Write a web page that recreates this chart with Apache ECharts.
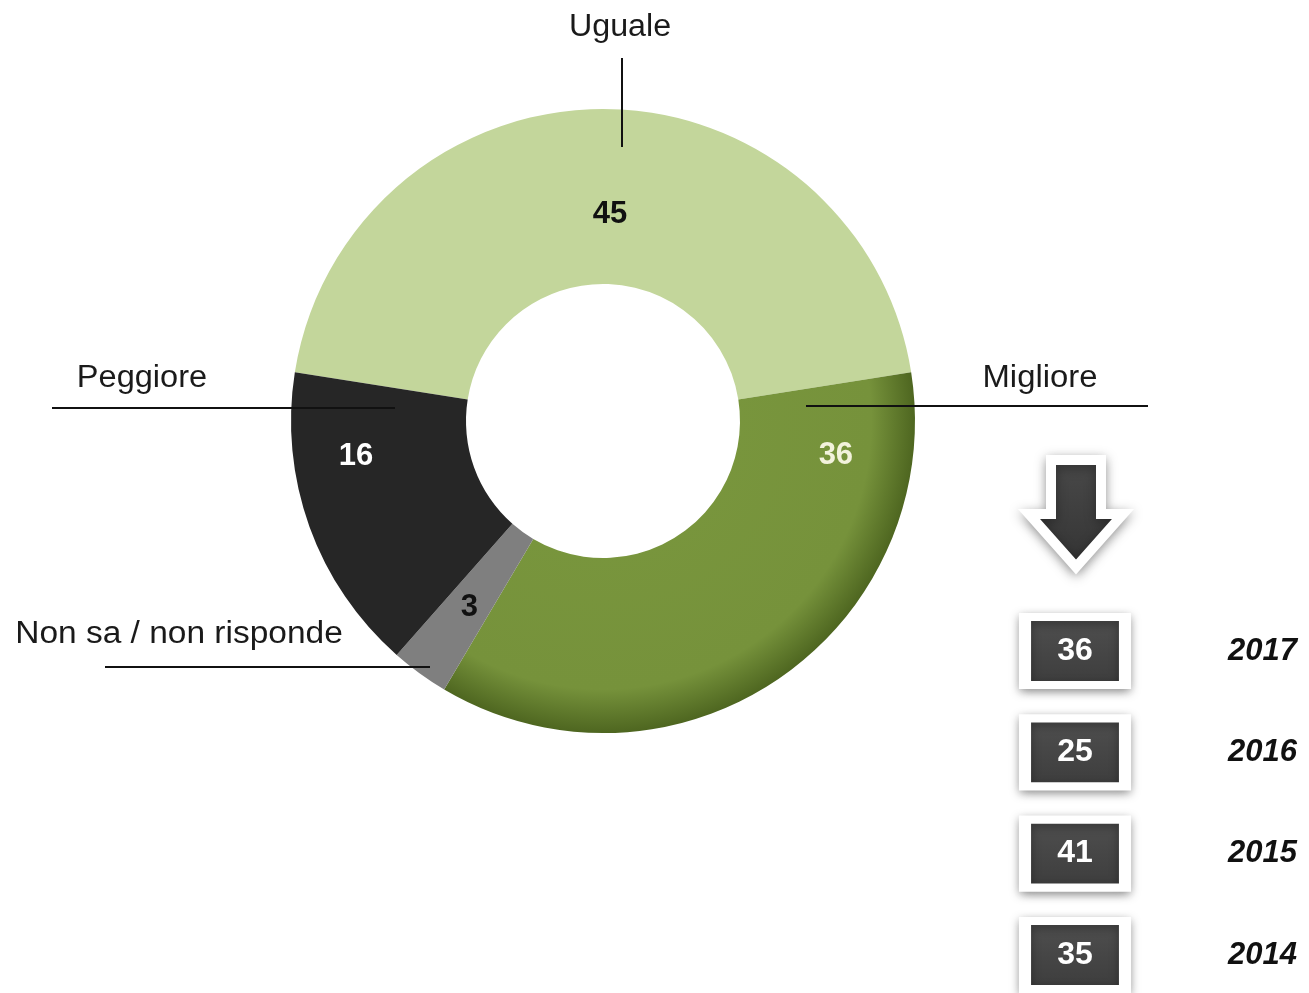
<!DOCTYPE html>
<html>
<head>
<meta charset="utf-8">
<script src="https://cdn.jsdelivr.net/npm/echarts@6/dist/echarts.min.js"></script>
<style>
  html, body { margin: 0; padding: 0; background: #fff; }
  #chart { width: 1309px; height: 993px; }
</style>
</head>
<body>
<div id="chart"></div>
<script>
// dati della ciambella (ordine orario a partire da sinistra)
const categories = ['Uguale', 'Migliore', 'Non sa / non risponde', 'Peggiore']
const values = [45, 36, 3, 16]

// serie storica "Migliore"
const years = ['2017', '2016', '2015', '2014']
const yearValues = [36, 25, 41, 35]

// stile delle fette
const sliceColors = ['#c3d69b', '#77933c', '#7f7f7f', '#262626']
const valueColors = ['#111', '#f2f2dc', '#111', '#fff']
const valueOffsets = [[7, 21], [105, -154], [0, 2], [-33, -42]]

// posizioni delle etichette esterne (testo + linea)
const nameLayout = [
  { tx: 620, ty: 27, sx: 1.04, line: [622, 58, 622, 147] },
  { tx: 1040, ty: 378, sx: 1.06, line: [806, 406, 1148, 406] },
  { tx: 179, ty: 634, sx: 1.08, line: [105, 667, 430, 667] },
  { tx: 142, ty: 378, sx: 1.05, line: [52, 408, 395, 408] }
]

const FONT = '"Liberation Sans", Arial, sans-serif'
const cx = 603, cy = 421, r0 = 137, r1 = 312

const chart = echarts.init(document.getElementById('chart'))

const pieData = values.map((v, i) => ({
  name: categories[i],
  value: v,
  itemStyle: {
    color: i === 1
      ? new echarts.graphic.RadialGradient(cx, cy, r1, [
          { offset: 0, color: '#7a983e' },
          { offset: 0.86, color: '#76923b' },
          { offset: 1, color: '#4e6620' }
        ], true)
      : sliceColors[i]
  },
  label: { color: valueColors[i], offset: valueOffsets[i] }
}))

const graphics = []
nameLayout.forEach((l, i) => {
  graphics.push({
    type: 'line',
    shape: { x1: l.line[0], y1: l.line[1], x2: l.line[2], y2: l.line[3] },
    style: { stroke: '#111', lineWidth: 2 },
    z: 10
  })
  graphics.push({
    type: 'text',
    x: l.tx, y: l.ty,
    scaleX: l.sx,
    style: {
      text: categories[i], fill: '#1a1a1a', font: '31px ' + FONT,
      align: 'center', verticalAlign: 'middle'
    },
    z: 10
  })
})

// freccia verso il basso
graphics.push({
  type: 'polygon',
  shape: {
    points: [[1051, 460], [1101, 460], [1101, 514], [1123, 514], [1076, 567],
      [1029, 514], [1051, 514]]
  },
  style: {
    fill: new echarts.graphic.LinearGradient(0, 0, 0, 1, [
      { offset: 0, color: '#4a4a4a' },
      { offset: 1, color: '#333' }
    ]),
    stroke: '#fff', lineWidth: 10, lineJoin: 'miter',
    shadowBlur: 12, shadowColor: 'rgba(0,0,0,0.35)', shadowOffsetY: 3
  },
  z: 5
})

chart.setOption({
  backgroundColor: '#fff',
  animation: false,
  graphic: graphics,
  grid: { left: 1020, width: 110, top: 651, bottom: 38 },
  xAxis: { type: 'value', min: 0, max: 2, show: false },
  yAxis: {
    type: 'category',
    data: years,
    inverse: true,
    boundaryGap: false,
    position: 'right',
    axisLine: { show: false },
    axisTick: { show: false },
    splitLine: { show: false },
    axisLabel: {
      margin: 98,
      fontSize: 31,
      fontStyle: 'italic',
      fontWeight: 'bold',
      fontFamily: FONT,
      color: '#111'
    }
  },
  series: [
    {
      type: 'pie',
      center: [cx, cy],
      radius: [r0, r1],
      startAngle: 171,
      clockwise: true,
      avoidLabelOverlap: false,
      silent: true,
      label: {
        show: true,
        position: 'inside',
        formatter: '{c}',
        fontSize: 31,
        fontWeight: 'bold',
        fontFamily: FONT
      },
      labelLine: { show: false },
      data: pieData
    },
    {
      type: 'scatter',
      symbol: 'rect',
      symbolSize: [100, 68],
      silent: true,
      itemStyle: {
        color: new echarts.graphic.LinearGradient(0, 0, 0, 1, [
          { offset: 0, color: '#505050' },
          { offset: 1, color: '#3c3c3c' }
        ]),
        borderColor: '#fff',
        borderWidth: 10,
        shadowBlur: 10,
        shadowColor: 'rgba(0,0,0,0.35)',
        shadowOffsetY: 3,
        opacity: 1
      },
      label: {
        show: true,
        position: 'inside',
        formatter: p => p.value[2],
        color: '#fff',
        fontSize: 32,
        fontWeight: 'bold',
        fontFamily: FONT
      },
      data: years.map((y, i) => [1, y, yearValues[i]])
    }
  ]
})
</script>
</body>
</html>
